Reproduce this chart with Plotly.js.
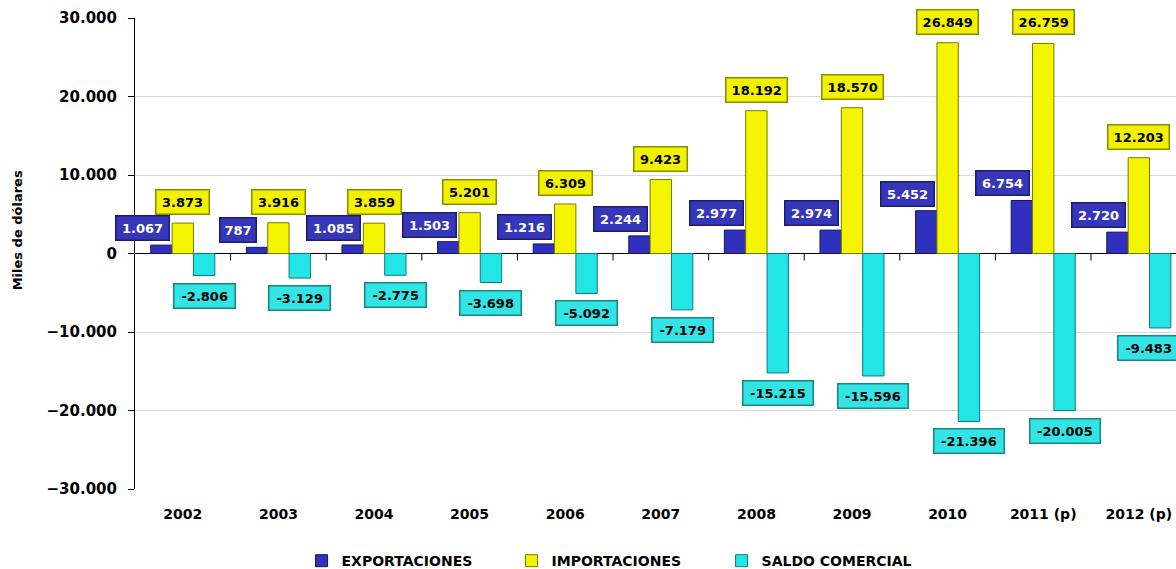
<!DOCTYPE html>
<html>
<head>
<meta charset="utf-8">
<script src="https://cdn.plot.ly/plotly-3.0.1.min.js"></script>
<style>html,body{margin:0;padding:0;background:#fff;overflow:hidden}#chart{width:1176px;height:569px}</style>
</head>
<body>
<div id="chart"></div>
<script>
const years = ["2002","2003","2004","2005","2006","2007","2008","2009","2010","2011 (p)","2012 (p)"];
const exportaciones = [1067, 787, 1085, 1503, 1216, 2244, 2977, 2974, 5452, 6754, 2720];
const importaciones = [3873, 3916, 3859, 5201, 6309, 9423, 18192, 18570, 26849, 26759, 12203];
const saldoComercial = [-2806, -3129, -2775, -3698, -5092, -7179, -15215, -15596, -21396, -20005, -9483];
const seriesNames = ["EXPORTACIONES", "IMPORTACIONES", "SALDO COMERCIAL"];
const yTickVals = [-30000, -20000, -10000, 0, 10000, 20000, 30000];

const FONT = "DejaVu Sans";
const colExp = "#3030BE", colImp = "#F5F500", colSal = "#22E6E6";
const bargap = 0.33;
const barW = (1 - bargap) / 3;

function fmt(n){
  const s = Math.abs(n).toString().replace(/\B(?=(\d{3})+(?!\d))/g, ".");
  return (n < 0 ? "-" : "") + s;
}

const traces = [
  {type:"bar", name:seriesNames[0], x:years, y:exportaciones,
   marker:{color:colExp, line:{color:"#15155E", width:1}}},
  {type:"bar", name:seriesNames[1], x:years, y:importaciones,
   marker:{color:colImp, line:{color:"#7A7A00", width:1}}},
  {type:"bar", name:seriesNames[2], x:years, y:saldoComercial,
   marker:{color:colSal, line:{color:"#137878", width:1}}}
];

const annotations = [];
function boxW(t){ return t.length * 8.4 + 2; }
years.forEach((yr, i) => {
  const e = fmt(exportaciones[i]);
  annotations.push({x:i - barW, y:exportaciones[i], xref:"x", yref:"y", text:e,
    showarrow:false, yanchor:"bottom", xanchor:"center", yshift:4, xshift:-19,
    font:{family:FONT, size:13, color:"#ffffff", weight:"bold"},
    bgcolor:"#3636B8", bordercolor:"#1C1C72", borderwidth:1.5, borderpad:4, width:boxW(e)});
  const m = fmt(importaciones[i]);
  annotations.push({x:i, y:importaciones[i], xref:"x", yref:"y", text:m,
    showarrow:false, yanchor:"bottom", xanchor:"center", yshift:8,
    font:{family:FONT, size:13, color:"#000000", weight:"bold"},
    bgcolor:"#F2F200", bordercolor:"#8C8C00", borderwidth:1.5, borderpad:4, width:boxW(m)});
  const s = fmt(saldoComercial[i]);
  annotations.push({x:i + barW, y:saldoComercial[i], xref:"x", yref:"y", text:s,
    showarrow:false, yanchor:"top", xanchor:"center", yshift:-7,
    xshift:(i === years.length - 1 ? -12 : 0),
    font:{family:FONT, size:13, color:"#000000", weight:"bold"},
    bgcolor:"#33E4E4", bordercolor:"#178686", borderwidth:1.5, borderpad:4, width:boxW(s)});
});
annotations.push({xref:"paper", yref:"paper", x:-0.112, y:0.55, text:"Miles de dólares",
  textangle:-90, showarrow:false, xanchor:"center", yanchor:"middle",
  font:{family:FONT, size:13, color:"#000000", weight:"bold"}});

const shapes = [];
for (let i = 1; i < years.length; i++){
  shapes.push({type:"line", xref:"x", yref:"y", x0:i-0.5, x1:i-0.5,
    ysizemode:"pixel", yanchor:0, y0:0, y1:-7, line:{color:"#000", width:1}});
}

const layout = {
  width:1176, height:569,
  margin:{l:135, r:0, t:18, b:80, autoexpand:false},
  paper_bgcolor:"#ffffff", plot_bgcolor:"#ffffff",
  separators:",.",
  barmode:"group", bargap:bargap, bargroupgap:0,
  font:{family:FONT, color:"#000"},
  xaxis:{type:"category", range:[-0.5, 10.389], showline:false, ticks:"",
    showgrid:false, zeroline:false,
    tickfont:{family:FONT, size:14, weight:"bold", color:"#000"}, ticklabelstandoff:15},
  yaxis:{range:[-30000, 30000], tickvals:yTickVals, tickformat:",d",
    showline:true, linecolor:"#000", linewidth:1, ticks:"outside", ticklen:6, tickcolor:"#000",
    showgrid:true, gridcolor:"#D9D9D9", gridwidth:1,
    zeroline:true, zerolinecolor:"#000", zerolinewidth:1,
    tickfont:{family:FONT, size:15, weight:"bold", color:"#000"}, ticklabelstandoff:8},
  legend:{orientation:"h", x:0.16, xanchor:"left", y:-0.153, yanchor:"middle",
    font:{family:FONT, size:14, weight:"bold", color:"#000"},
    entrywidth:165, entrywidthmode:"pixels", itemwidth:30},
  annotations:annotations,
  shapes:shapes
};

Plotly.newPlot("chart", traces, layout, {displayModeBar:false, responsive:false});
</script>
</body>
</html>
